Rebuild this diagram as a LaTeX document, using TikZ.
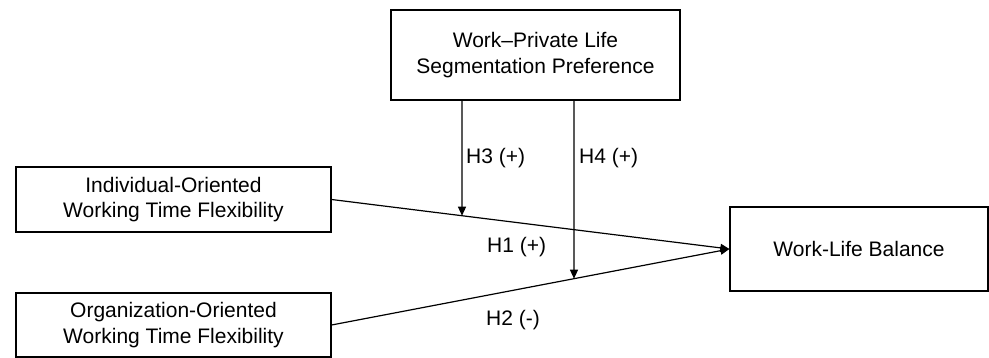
\documentclass[tikz,border=0pt]{standalone}
\usepackage{fontspec}
\setmainfont{Liberation Sans}
\usetikzlibrary{arrows.meta,calc}
\begin{document}
\begin{tikzpicture}[x=1pt,y=-1pt,
  box/.style={draw,line width=1.2pt,inner sep=0pt,align=center,font=\fontsize{21}{25.5}\selectfont},
  arr/.style={line width=1.2pt,-{Triangle[length=9pt,width=8pt]}},
  lbl/.style={anchor=west,inner sep=0pt,font=\fontsize{21}{25.5}\selectfont}]
\useasboundingbox (0,0) rectangle (989,358);
\node[box,minimum width=289pt,minimum height=90pt] (top) at (535.5,55) {Work--Private Life\\Segmentation Preference};
\node[box,minimum width=315pt,minimum height=65pt] (ind) at (173.5,199.5) {Individual-Oriented\\Working Time Flexibility};
\node[box,minimum width=315pt,minimum height=64pt] (org) at (173.5,325) {Organization-Oriented\\Working Time Flexibility};
\node[box,minimum width=258pt,minimum height=84pt] (wlb) at (859,249) {Work-Life Balance};
\coordinate (h3x) at (462,0);
\coordinate (h4x) at (574,0);
\draw[arr] (ind.east) -- (wlb.west);
\draw[arr] (org.east) -- (wlb.west);
\draw[arr] (top.south -| h3x) -- (intersection cs: first line={(ind.east)--(wlb.west)}, second line={(h3x)--(h3x |- org.south)});
\draw[arr] (top.south -| h4x) -- (intersection cs: first line={(org.east)--(wlb.west)}, second line={(h4x)--(h4x |- org.south)});
\node[lbl] (l3) at (466,158) {H3 (+)};
\node[lbl] (l4) at (579,158) {H4 (+)};
\node[lbl] (l1) at (487,247) {H1 (+)};
\node[lbl] (l2) at (486,320) {H2 (-)};
\end{tikzpicture}
\end{document}
